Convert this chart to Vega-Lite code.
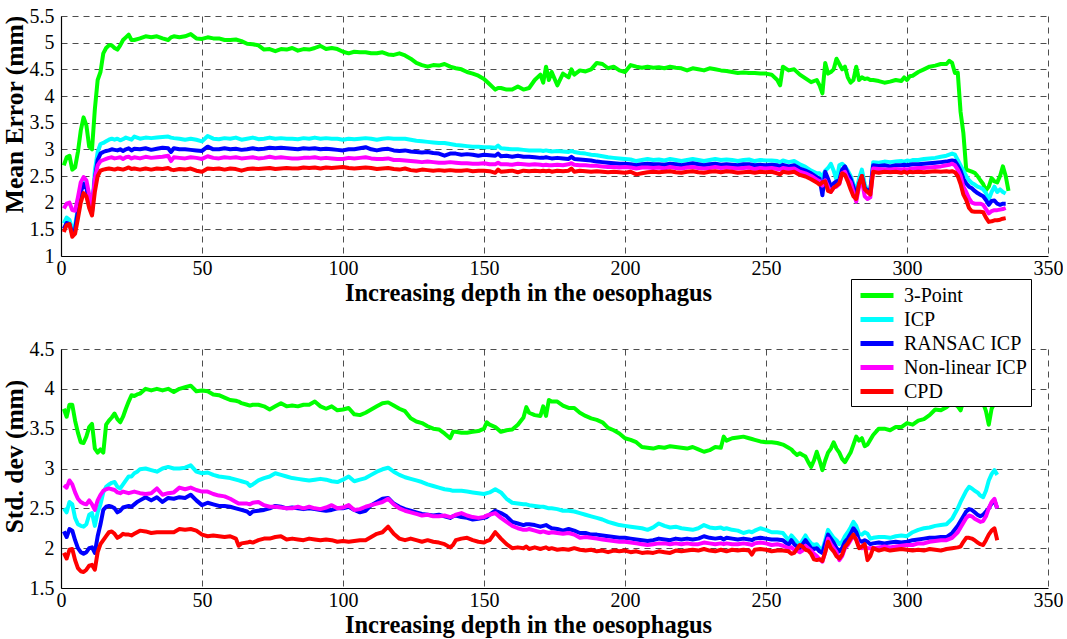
{
  "$schema": "https://vega.github.io/schema/vega-lite/v6.json",
  "padding": {"left": 2, "top": 6, "right": 0, "bottom": 2},
  "background": "white",
  "bounds": "flush",
  "spacing": 93,
  "config": {
    "font": "Liberation Serif, Times New Roman, DejaVu Serif, serif",
    "view": {"stroke": null},
    "axis": {
      "labelFont": "Liberation Serif, Times New Roman, DejaVu Serif, serif", "labelFontSize": 20, "labelColor": "#000",
      "titleFont": "Liberation Serif, Times New Roman, DejaVu Serif, serif", "titleFontSize": 25, "titleFontWeight": "bold", "titleColor": "#000",
      "domainColor": "#000", "domainWidth": 1.2, "ticks": false, "labelFlush": false,
      "gridColor": "#222", "gridDash": [6, 5], "gridOpacity": 0.8, "gridWidth": 1
    },
    "legend": {
      "labelFont": "Liberation Serif, Times New Roman, DejaVu Serif, serif", "labelFontSize": 20, "labelColor": "#000",
      "symbolType": "M-0.7,0H2.6", "symbolSize": 400, "symbolStrokeWidth": 5,
      "fillColor": "white", "strokeColor": "#000", "padding": 4, "rowPadding": 1, "labelOffset": 24
    }
  },
  "datasets": {
    "mean": [
      {"x":1,"g":2.7,"c":1.61,"b":1.51,"m":1.89,"r":1.45},
      {"x":2,"g":2.85,"c":1.72,"b":1.62,"m":1.98,"r":1.58},
      {"x":3,"g":2.88,"c":1.68,"b":1.6,"m":2.0,"r":1.6},
      {"x":4,"g":2.62,"c":1.5,"b":1.42,"m":1.86,"r":1.36},
      {"x":5,"g":2.66,"c":1.58,"b":1.5,"m":1.85,"r":1.42},
      {"x":6,"g":2.95,"c":1.9,"b":1.85,"m":2.1,"r":1.7},
      {"x":7,"g":3.35,"c":2.25,"b":2.2,"m":2.38,"r":2.0},
      {"x":8,"g":3.6,"c":2.42,"b":2.35,"m":2.48,"r":2.18},
      {"x":9,"g":3.45,"c":2.35,"b":2.28,"m":2.42,"r":2.12},
      {"x":10,"g":3.05,"c":2.05,"b":2.0,"m":2.15,"r":1.9},
      {"x":11,"g":3.0,"c":1.85,"b":1.82,"m":1.92,"r":1.76},
      {"x":12,"g":3.75,"c":2.6,"b":2.45,"m":2.45,"r":2.2},
      {"x":13,"g":4.3,"c":2.95,"b":2.8,"m":2.7,"r":2.5},
      {"x":14,"g":4.45,"c":3.1,"b":2.92,"m":2.78,"r":2.6},
      {"x":15,"g":4.8,"c":3.12,"b":2.95,"m":2.8,"r":2.62},
      {"x":16,"g":4.9,"c":3.15,"b":2.97,"m":2.82,"r":2.63},
      {"x":17,"g":4.95,"c":3.18,"b":2.98,"m":2.84,"r":2.64},
      {"x":18,"g":4.95,"c":3.2,"b":3.0,"m":2.85,"r":2.63},
      {"x":19,"g":4.9,"c":3.18,"b":2.99,"m":2.83,"r":2.62},
      {"x":20,"g":4.87,"c":3.2,"b":2.98,"m":2.84,"r":2.64},
      {"x":21,"g":4.95,"c":3.17,"b":3.0,"m":2.85,"r":2.63},
      {"x":22,"g":5.05,"c":3.19,"b":2.97,"m":2.82,"r":2.62},
      {"x":23,"g":5.1,"c":3.22,"b":3.0,"m":2.85,"r":2.64},
      {"x":24,"g":5.15,"c":3.2,"b":3.02,"m":2.86,"r":2.66},
      {"x":25,"g":5.05,"c":3.18,"b":2.98,"m":2.83,"r":2.63},
      {"x":26,"g":5.05,"c":3.24,"b":3.01,"m":2.85,"r":2.64},
      {"x":28,"g":5.08,"c":3.2,"b":3.0,"m":2.83,"r":2.62},
      {"x":30,"g":5.12,"c":3.22,"b":3.02,"m":2.86,"r":2.64},
      {"x":32,"g":5.1,"c":3.21,"b":2.99,"m":2.84,"r":2.62},
      {"x":34,"g":5.12,"c":3.22,"b":3.01,"m":2.85,"r":2.64},
      {"x":36,"g":5.08,"c":3.23,"b":3.03,"m":2.86,"r":2.63},
      {"x":38,"g":5.05,"c":3.24,"b":3.02,"m":2.88,"r":2.65},
      {"x":39,"g":5.1,"c":3.22,"b":2.95,"m":2.78,"r":2.62},
      {"x":40,"g":5.12,"c":3.21,"b":3.02,"m":2.85,"r":2.61},
      {"x":42,"g":5.1,"c":3.2,"b":3.0,"m":2.84,"r":2.63},
      {"x":44,"g":5.12,"c":3.18,"b":3.0,"m":2.83,"r":2.62},
      {"x":46,"g":5.16,"c":3.2,"b":2.99,"m":2.85,"r":2.64},
      {"x":48,"g":5.08,"c":3.18,"b":2.98,"m":2.84,"r":2.6},
      {"x":50,"g":5.07,"c":3.15,"b":2.97,"m":2.82,"r":2.58},
      {"x":52,"g":5.1,"c":3.25,"b":3.05,"m":2.87,"r":2.64},
      {"x":54,"g":5.08,"c":3.2,"b":3.0,"m":2.84,"r":2.63},
      {"x":56,"g":5.08,"c":3.19,"b":3.0,"m":2.83,"r":2.64},
      {"x":58,"g":5.05,"c":3.21,"b":3.02,"m":2.85,"r":2.62},
      {"x":60,"g":5.05,"c":3.2,"b":3.0,"m":2.84,"r":2.64},
      {"x":62,"g":5.06,"c":3.22,"b":3.01,"m":2.85,"r":2.63},
      {"x":64,"g":5.03,"c":3.18,"b":2.99,"m":2.83,"r":2.6},
      {"x":66,"g":4.98,"c":3.2,"b":3.0,"m":2.84,"r":2.63},
      {"x":68,"g":4.97,"c":3.22,"b":3.02,"m":2.85,"r":2.64},
      {"x":70,"g":4.95,"c":3.19,"b":3.0,"m":2.83,"r":2.63},
      {"x":72,"g":4.87,"c":3.2,"b":3.01,"m":2.84,"r":2.64},
      {"x":74,"g":4.88,"c":3.22,"b":3.03,"m":2.86,"r":2.65},
      {"x":76,"g":4.84,"c":3.2,"b":3.02,"m":2.84,"r":2.63},
      {"x":78,"g":4.88,"c":3.21,"b":3.03,"m":2.85,"r":2.64},
      {"x":80,"g":4.87,"c":3.2,"b":3.02,"m":2.84,"r":2.65},
      {"x":82,"g":4.9,"c":3.2,"b":3.01,"m":2.83,"r":2.64},
      {"x":84,"g":4.85,"c":3.19,"b":3.0,"m":2.83,"r":2.64},
      {"x":86,"g":4.88,"c":3.21,"b":3.02,"m":2.84,"r":2.66},
      {"x":88,"g":4.87,"c":3.2,"b":3.01,"m":2.84,"r":2.65},
      {"x":90,"g":4.9,"c":3.22,"b":3.02,"m":2.85,"r":2.66},
      {"x":92,"g":4.94,"c":3.2,"b":3.0,"m":2.83,"r":2.64},
      {"x":94,"g":4.88,"c":3.21,"b":3.01,"m":2.84,"r":2.66},
      {"x":96,"g":4.9,"c":3.2,"b":3.0,"m":2.83,"r":2.65},
      {"x":98,"g":4.88,"c":3.2,"b":2.99,"m":2.82,"r":2.66},
      {"x":100,"g":4.83,"c":3.18,"b":2.98,"m":2.82,"r":2.67},
      {"x":102,"g":4.8,"c":3.2,"b":3.0,"m":2.84,"r":2.65},
      {"x":104,"g":4.83,"c":3.19,"b":3.0,"m":2.83,"r":2.64},
      {"x":106,"g":4.82,"c":3.2,"b":3.02,"m":2.84,"r":2.65},
      {"x":108,"g":4.82,"c":3.21,"b":3.04,"m":2.85,"r":2.66},
      {"x":110,"g":4.8,"c":3.2,"b":3.0,"m":2.83,"r":2.65},
      {"x":112,"g":4.8,"c":3.18,"b":2.98,"m":2.82,"r":2.63},
      {"x":114,"g":4.82,"c":3.2,"b":3.0,"m":2.82,"r":2.64},
      {"x":116,"g":4.78,"c":3.21,"b":3.01,"m":2.83,"r":2.65},
      {"x":118,"g":4.77,"c":3.2,"b":2.98,"m":2.8,"r":2.63},
      {"x":120,"g":4.8,"c":3.2,"b":2.97,"m":2.8,"r":2.62},
      {"x":122,"g":4.76,"c":3.2,"b":2.98,"m":2.79,"r":2.64},
      {"x":124,"g":4.7,"c":3.18,"b":2.96,"m":2.78,"r":2.61},
      {"x":126,"g":4.62,"c":3.16,"b":2.95,"m":2.77,"r":2.6},
      {"x":128,"g":4.58,"c":3.15,"b":2.94,"m":2.76,"r":2.62},
      {"x":130,"g":4.55,"c":3.14,"b":2.95,"m":2.77,"r":2.61},
      {"x":132,"g":4.58,"c":3.13,"b":2.93,"m":2.76,"r":2.6},
      {"x":134,"g":4.57,"c":3.12,"b":2.92,"m":2.75,"r":2.61},
      {"x":136,"g":4.6,"c":3.12,"b":2.88,"m":2.75,"r":2.6},
      {"x":138,"g":4.55,"c":3.1,"b":2.92,"m":2.76,"r":2.61},
      {"x":140,"g":4.52,"c":3.08,"b":2.92,"m":2.75,"r":2.6},
      {"x":142,"g":4.5,"c":3.07,"b":2.9,"m":2.74,"r":2.6},
      {"x":144,"g":4.45,"c":3.06,"b":2.91,"m":2.74,"r":2.61},
      {"x":146,"g":4.42,"c":3.05,"b":2.9,"m":2.73,"r":2.59},
      {"x":148,"g":4.38,"c":3.05,"b":2.88,"m":2.73,"r":2.6},
      {"x":150,"g":4.32,"c":3.04,"b":2.9,"m":2.74,"r":2.6},
      {"x":152,"g":4.22,"c":3.04,"b":2.89,"m":2.72,"r":2.59},
      {"x":154,"g":4.12,"c":3.03,"b":2.88,"m":2.72,"r":2.56},
      {"x":155,"g":4.15,"c":3.07,"b":2.92,"m":2.75,"r":2.62},
      {"x":156,"g":4.15,"c":3.02,"b":2.87,"m":2.72,"r":2.58},
      {"x":158,"g":4.12,"c":3.01,"b":2.88,"m":2.72,"r":2.59},
      {"x":160,"g":4.12,"c":3.0,"b":2.86,"m":2.71,"r":2.6},
      {"x":162,"g":4.18,"c":3.0,"b":2.88,"m":2.73,"r":2.57},
      {"x":164,"g":4.12,"c":2.99,"b":2.86,"m":2.72,"r":2.6},
      {"x":166,"g":4.15,"c":2.98,"b":2.86,"m":2.71,"r":2.59},
      {"x":168,"g":4.3,"c":2.98,"b":2.85,"m":2.72,"r":2.6},
      {"x":170,"g":4.4,"c":2.98,"b":2.84,"m":2.71,"r":2.59},
      {"x":171,"g":4.25,"c":2.97,"b":2.84,"m":2.7,"r":2.6},
      {"x":172,"g":4.55,"c":2.98,"b":2.85,"m":2.71,"r":2.59},
      {"x":173,"g":4.3,"c":2.97,"b":2.84,"m":2.7,"r":2.6},
      {"x":174,"g":4.45,"c":2.96,"b":2.83,"m":2.7,"r":2.58},
      {"x":176,"g":4.2,"c":2.97,"b":2.84,"m":2.71,"r":2.6},
      {"x":178,"g":4.42,"c":2.96,"b":2.83,"m":2.7,"r":2.59},
      {"x":180,"g":4.35,"c":2.95,"b":2.82,"m":2.72,"r":2.6},
      {"x":181,"g":4.5,"c":2.97,"b":2.86,"m":2.74,"r":2.64},
      {"x":182,"g":4.4,"c":2.95,"b":2.82,"m":2.71,"r":2.58},
      {"x":184,"g":4.48,"c":2.93,"b":2.81,"m":2.7,"r":2.6},
      {"x":186,"g":4.46,"c":2.92,"b":2.8,"m":2.7,"r":2.59},
      {"x":188,"g":4.5,"c":2.9,"b":2.79,"m":2.69,"r":2.58},
      {"x":190,"g":4.62,"c":2.89,"b":2.77,"m":2.69,"r":2.59},
      {"x":192,"g":4.6,"c":2.87,"b":2.76,"m":2.68,"r":2.58},
      {"x":194,"g":4.52,"c":2.85,"b":2.75,"m":2.67,"r":2.57},
      {"x":196,"g":4.55,"c":2.84,"b":2.74,"m":2.67,"r":2.58},
      {"x":198,"g":4.48,"c":2.83,"b":2.73,"m":2.66,"r":2.57},
      {"x":200,"g":4.45,"c":2.82,"b":2.73,"m":2.67,"r":2.56},
      {"x":202,"g":4.58,"c":2.81,"b":2.72,"m":2.66,"r":2.58},
      {"x":204,"g":4.55,"c":2.78,"b":2.7,"m":2.64,"r":2.53},
      {"x":206,"g":4.53,"c":2.8,"b":2.72,"m":2.66,"r":2.55},
      {"x":208,"g":4.55,"c":2.82,"b":2.73,"m":2.66,"r":2.57},
      {"x":210,"g":4.53,"c":2.8,"b":2.72,"m":2.65,"r":2.58},
      {"x":212,"g":4.54,"c":2.81,"b":2.72,"m":2.66,"r":2.57},
      {"x":214,"g":4.52,"c":2.79,"b":2.71,"m":2.64,"r":2.58},
      {"x":216,"g":4.55,"c":2.82,"b":2.73,"m":2.67,"r":2.59},
      {"x":218,"g":4.53,"c":2.8,"b":2.72,"m":2.65,"r":2.57},
      {"x":220,"g":4.52,"c":2.78,"b":2.7,"m":2.64,"r":2.56},
      {"x":222,"g":4.48,"c":2.8,"b":2.72,"m":2.66,"r":2.58},
      {"x":224,"g":4.52,"c":2.82,"b":2.74,"m":2.67,"r":2.59},
      {"x":226,"g":4.5,"c":2.8,"b":2.72,"m":2.65,"r":2.57},
      {"x":228,"g":4.48,"c":2.78,"b":2.7,"m":2.64,"r":2.56},
      {"x":230,"g":4.52,"c":2.8,"b":2.72,"m":2.65,"r":2.58},
      {"x":232,"g":4.5,"c":2.82,"b":2.73,"m":2.67,"r":2.59},
      {"x":234,"g":4.48,"c":2.8,"b":2.71,"m":2.65,"r":2.57},
      {"x":236,"g":4.47,"c":2.81,"b":2.72,"m":2.66,"r":2.59},
      {"x":238,"g":4.45,"c":2.8,"b":2.71,"m":2.65,"r":2.58},
      {"x":240,"g":4.43,"c":2.78,"b":2.7,"m":2.64,"r":2.56},
      {"x":242,"g":4.44,"c":2.8,"b":2.72,"m":2.65,"r":2.57},
      {"x":244,"g":4.43,"c":2.81,"b":2.72,"m":2.66,"r":2.58},
      {"x":246,"g":4.43,"c":2.78,"b":2.7,"m":2.63,"r":2.56},
      {"x":248,"g":4.42,"c":2.8,"b":2.71,"m":2.65,"r":2.58},
      {"x":250,"g":4.42,"c":2.79,"b":2.7,"m":2.64,"r":2.57},
      {"x":252,"g":4.4,"c":2.79,"b":2.71,"m":2.65,"r":2.58},
      {"x":254,"g":4.3,"c":2.78,"b":2.7,"m":2.63,"r":2.55},
      {"x":255,"g":4.2,"c":2.76,"b":2.68,"m":2.62,"r":2.53},
      {"x":256,"g":4.55,"c":2.79,"b":2.71,"m":2.65,"r":2.58},
      {"x":258,"g":4.48,"c":2.76,"b":2.68,"m":2.63,"r":2.56},
      {"x":260,"g":4.5,"c":2.78,"b":2.7,"m":2.64,"r":2.58},
      {"x":262,"g":4.4,"c":2.72,"b":2.64,"m":2.58,"r":2.52},
      {"x":264,"g":4.33,"c":2.67,"b":2.6,"m":2.55,"r":2.49},
      {"x":266,"g":4.26,"c":2.6,"b":2.55,"m":2.5,"r":2.44},
      {"x":268,"g":4.3,"c":2.55,"b":2.48,"m":2.43,"r":2.38},
      {"x":269,"g":4.2,"c":2.55,"b":2.45,"m":2.4,"r":2.34},
      {"x":270,"g":4.05,"c":2.48,"b":2.14,"m":2.32,"r":2.38},
      {"x":271,"g":4.62,"c":2.6,"b":2.58,"m":2.42,"r":2.4},
      {"x":272,"g":4.42,"c":2.65,"b":2.45,"m":2.3,"r":2.22},
      {"x":273,"g":4.45,"c":2.73,"b":2.3,"m":2.2,"r":2.2},
      {"x":274,"g":4.5,"c":2.6,"b":2.36,"m":2.28,"r":2.28},
      {"x":275,"g":4.7,"c":2.42,"b":2.4,"m":2.3,"r":2.32},
      {"x":276,"g":4.6,"c":2.7,"b":2.42,"m":2.35,"r":2.36},
      {"x":277,"g":4.5,"c":2.73,"b":2.62,"m":2.55,"r":2.55},
      {"x":278,"g":4.55,"c":2.68,"b":2.68,"m":2.58,"r":2.52},
      {"x":279,"g":4.35,"c":2.6,"b":2.55,"m":2.45,"r":2.4},
      {"x":280,"g":4.25,"c":2.5,"b":2.45,"m":2.38,"r":2.25},
      {"x":281,"g":4.3,"c":2.35,"b":2.3,"m":2.2,"r":2.12},
      {"x":282,"g":4.55,"c":2.23,"b":2.12,"m":2.02,"r":2.07},
      {"x":283,"g":4.3,"c":2.45,"b":2.35,"m":2.3,"r":2.35},
      {"x":284,"g":4.35,"c":2.62,"b":2.5,"m":2.42,"r":2.5},
      {"x":285,"g":4.32,"c":2.35,"b":2.28,"m":2.12,"r":2.25},
      {"x":286,"g":4.33,"c":2.22,"b":2.22,"m":2.07,"r":2.2},
      {"x":287,"g":4.3,"c":2.22,"b":2.25,"m":2.1,"r":2.15},
      {"x":288,"g":4.3,"c":2.76,"b":2.7,"m":2.64,"r":2.58},
      {"x":290,"g":4.28,"c":2.75,"b":2.69,"m":2.63,"r":2.56},
      {"x":292,"g":4.25,"c":2.77,"b":2.7,"m":2.62,"r":2.58},
      {"x":294,"g":4.27,"c":2.76,"b":2.68,"m":2.62,"r":2.57},
      {"x":296,"g":4.3,"c":2.77,"b":2.7,"m":2.63,"r":2.58},
      {"x":298,"g":4.28,"c":2.78,"b":2.7,"m":2.62,"r":2.56},
      {"x":299,"g":4.35,"c":2.77,"b":2.71,"m":2.63,"r":2.58},
      {"x":300,"g":4.3,"c":2.79,"b":2.7,"m":2.62,"r":2.56},
      {"x":301,"g":4.37,"c":2.78,"b":2.71,"m":2.63,"r":2.58},
      {"x":302,"g":4.38,"c":2.8,"b":2.72,"m":2.64,"r":2.57},
      {"x":304,"g":4.45,"c":2.8,"b":2.72,"m":2.65,"r":2.58},
      {"x":306,"g":4.5,"c":2.82,"b":2.73,"m":2.65,"r":2.57},
      {"x":308,"g":4.55,"c":2.83,"b":2.74,"m":2.66,"r":2.58},
      {"x":310,"g":4.57,"c":2.84,"b":2.75,"m":2.67,"r":2.59},
      {"x":312,"g":4.6,"c":2.86,"b":2.76,"m":2.68,"r":2.58},
      {"x":314,"g":4.6,"c":2.88,"b":2.77,"m":2.7,"r":2.59},
      {"x":315,"g":4.66,"c":2.9,"b":2.78,"m":2.71,"r":2.58},
      {"x":316,"g":4.62,"c":2.92,"b":2.79,"m":2.73,"r":2.59},
      {"x":317,"g":4.43,"c":2.9,"b":2.78,"m":2.7,"r":2.57},
      {"x":318,"g":4.44,"c":2.8,"b":2.7,"m":2.62,"r":2.5},
      {"x":319,"g":3.7,"c":2.7,"b":2.6,"m":2.5,"r":2.35},
      {"x":320,"g":3.3,"c":2.6,"b":2.45,"m":2.3,"r":2.15},
      {"x":321,"g":2.62,"c":2.5,"b":2.36,"m":2.2,"r":2.05},
      {"x":322,"g":2.6,"c":2.42,"b":2.3,"m":2.08,"r":1.9},
      {"x":323,"g":2.58,"c":2.37,"b":2.27,"m":2.0,"r":1.84},
      {"x":324,"g":2.56,"c":2.34,"b":2.22,"m":1.98,"r":1.83},
      {"x":325,"g":2.5,"c":2.3,"b":2.18,"m":1.98,"r":1.83},
      {"x":326,"g":2.42,"c":2.28,"b":2.15,"m":1.98,"r":1.83},
      {"x":327,"g":2.35,"c":2.25,"b":2.12,"m":1.96,"r":1.82},
      {"x":328,"g":2.23,"c":2.18,"b":2.05,"m":1.88,"r":1.72},
      {"x":329,"g":2.3,"c":2.06,"b":1.96,"m":1.8,"r":1.64},
      {"x":330,"g":2.46,"c":2.2,"b":2.03,"m":1.84,"r":1.65},
      {"x":331,"g":2.4,"c":2.3,"b":2.04,"m":1.86,"r":1.67},
      {"x":332,"g":2.38,"c":2.2,"b":1.98,"m":1.86,"r":1.67},
      {"x":333,"g":2.5,"c":2.25,"b":1.96,"m":1.87,"r":1.68},
      {"x":334,"g":2.68,"c":2.2,"b":1.98,"m":1.88,"r":1.7},
      {"x":335,"g":2.5,"c":2.17,"b":1.98,"m":1.9,"r":1.71},
      {"x":336,"g":2.22,"c":null,"b":null,"m":null,"r":null}
    ],
    "std": [
      {"x":1,"g":3.75,"c":2.5,"b":2.21,"m":2.79,"r":1.94},
      {"x":2,"g":3.65,"c":2.45,"b":2.14,"m":2.76,"r":1.87},
      {"x":3,"g":3.8,"c":2.58,"b":2.24,"m":2.85,"r":1.98},
      {"x":4,"g":3.8,"c":2.55,"b":2.22,"m":2.8,"r":1.99},
      {"x":5,"g":3.6,"c":2.38,"b":2.1,"m":2.7,"r":1.85},
      {"x":6,"g":3.45,"c":2.3,"b":2.0,"m":2.62,"r":1.75},
      {"x":7,"g":3.33,"c":2.28,"b":1.95,"m":2.58,"r":1.71},
      {"x":8,"g":3.32,"c":2.27,"b":1.93,"m":2.56,"r":1.7},
      {"x":9,"g":3.4,"c":2.3,"b":1.95,"m":2.55,"r":1.73},
      {"x":10,"g":3.52,"c":2.42,"b":2.0,"m":2.6,"r":1.78},
      {"x":11,"g":3.56,"c":2.44,"b":2.01,"m":2.55,"r":1.79},
      {"x":12,"g":3.25,"c":2.28,"b":1.94,"m":2.48,"r":1.73},
      {"x":13,"g":3.2,"c":2.45,"b":2.15,"m":2.6,"r":1.95},
      {"x":14,"g":3.24,"c":2.55,"b":2.3,"m":2.67,"r":2.05},
      {"x":15,"g":3.2,"c":2.7,"b":2.48,"m":2.72,"r":2.1},
      {"x":16,"g":3.55,"c":2.77,"b":2.52,"m":2.74,"r":2.15},
      {"x":17,"g":3.6,"c":2.8,"b":2.53,"m":2.75,"r":2.2},
      {"x":18,"g":3.64,"c":2.82,"b":2.52,"m":2.74,"r":2.21},
      {"x":19,"g":3.69,"c":2.83,"b":2.5,"m":2.73,"r":2.18},
      {"x":20,"g":3.62,"c":2.77,"b":2.45,"m":2.7,"r":2.13},
      {"x":21,"g":3.58,"c":2.75,"b":2.47,"m":2.69,"r":2.15},
      {"x":22,"g":3.65,"c":2.8,"b":2.51,"m":2.71,"r":2.18},
      {"x":23,"g":3.75,"c":2.85,"b":2.52,"m":2.7,"r":2.17},
      {"x":24,"g":3.84,"c":2.9,"b":2.53,"m":2.69,"r":2.17},
      {"x":25,"g":3.92,"c":2.9,"b":2.52,"m":2.7,"r":2.16},
      {"x":26,"g":3.91,"c":2.94,"b":2.55,"m":2.71,"r":2.18},
      {"x":27,"g":3.93,"c":2.96,"b":2.58,"m":2.7,"r":2.2},
      {"x":28,"g":3.94,"c":2.99,"b":2.6,"m":2.69,"r":2.22},
      {"x":30,"g":4.0,"c":3.0,"b":2.64,"m":2.68,"r":2.21},
      {"x":32,"g":3.98,"c":2.98,"b":2.6,"m":2.69,"r":2.19},
      {"x":34,"g":4.0,"c":2.96,"b":2.64,"m":2.75,"r":2.2},
      {"x":36,"g":3.98,"c":3.0,"b":2.58,"m":2.67,"r":2.2},
      {"x":38,"g":4.0,"c":3.02,"b":2.63,"m":2.69,"r":2.2},
      {"x":40,"g":3.96,"c":3.0,"b":2.62,"m":2.7,"r":2.2},
      {"x":42,"g":4.0,"c":3.0,"b":2.64,"m":2.76,"r":2.24},
      {"x":44,"g":4.02,"c":3.01,"b":2.63,"m":2.74,"r":2.23},
      {"x":46,"g":4.04,"c":3.04,"b":2.67,"m":2.76,"r":2.24},
      {"x":48,"g":3.97,"c":2.96,"b":2.6,"m":2.73,"r":2.22},
      {"x":50,"g":3.98,"c":2.94,"b":2.54,"m":2.71,"r":2.17},
      {"x":52,"g":3.97,"c":2.95,"b":2.57,"m":2.71,"r":2.15},
      {"x":54,"g":3.93,"c":2.92,"b":2.55,"m":2.68,"r":2.16},
      {"x":56,"g":3.92,"c":2.9,"b":2.53,"m":2.66,"r":2.15},
      {"x":58,"g":3.89,"c":2.89,"b":2.53,"m":2.65,"r":2.14},
      {"x":60,"g":3.86,"c":2.88,"b":2.52,"m":2.62,"r":2.15},
      {"x":62,"g":3.85,"c":2.86,"b":2.5,"m":2.58,"r":2.12},
      {"x":63,"g":3.84,"c":2.85,"b":2.49,"m":2.56,"r":2.03},
      {"x":64,"g":3.82,"c":2.84,"b":2.48,"m":2.56,"r":2.06},
      {"x":66,"g":3.8,"c":2.82,"b":2.46,"m":2.56,"r":2.07},
      {"x":67,"g":3.79,"c":2.78,"b":2.43,"m":2.55,"r":2.08},
      {"x":68,"g":3.8,"c":2.8,"b":2.46,"m":2.57,"r":2.07},
      {"x":70,"g":3.8,"c":2.85,"b":2.47,"m":2.58,"r":2.1},
      {"x":72,"g":3.78,"c":2.88,"b":2.48,"m":2.54,"r":2.12},
      {"x":74,"g":3.74,"c":2.9,"b":2.5,"m":2.52,"r":2.12},
      {"x":76,"g":3.78,"c":2.94,"b":2.53,"m":2.52,"r":2.14},
      {"x":78,"g":3.82,"c":2.92,"b":2.52,"m":2.51,"r":2.15},
      {"x":80,"g":3.78,"c":2.9,"b":2.5,"m":2.5,"r":2.11},
      {"x":82,"g":3.79,"c":2.88,"b":2.51,"m":2.5,"r":2.12},
      {"x":84,"g":3.78,"c":2.87,"b":2.5,"m":2.52,"r":2.11},
      {"x":86,"g":3.8,"c":2.86,"b":2.49,"m":2.5,"r":2.1},
      {"x":88,"g":3.8,"c":2.85,"b":2.5,"m":2.52,"r":2.12},
      {"x":90,"g":3.84,"c":2.86,"b":2.49,"m":2.5,"r":2.11},
      {"x":92,"g":3.78,"c":2.87,"b":2.48,"m":2.49,"r":2.1},
      {"x":94,"g":3.75,"c":2.86,"b":2.47,"m":2.51,"r":2.11},
      {"x":96,"g":3.78,"c":2.84,"b":2.48,"m":2.54,"r":2.1},
      {"x":98,"g":3.73,"c":2.83,"b":2.5,"m":2.5,"r":2.08},
      {"x":100,"g":3.74,"c":2.86,"b":2.5,"m":2.51,"r":2.09},
      {"x":102,"g":3.76,"c":2.9,"b":2.52,"m":2.54,"r":2.08},
      {"x":104,"g":3.68,"c":2.84,"b":2.48,"m":2.48,"r":2.09},
      {"x":106,"g":3.67,"c":2.86,"b":2.45,"m":2.49,"r":2.1},
      {"x":108,"g":3.7,"c":2.88,"b":2.47,"m":2.52,"r":2.1},
      {"x":110,"g":3.74,"c":2.92,"b":2.54,"m":2.54,"r":2.14},
      {"x":112,"g":3.78,"c":2.96,"b":2.58,"m":2.56,"r":2.18},
      {"x":114,"g":3.82,"c":2.99,"b":2.62,"m":2.58,"r":2.2},
      {"x":116,"g":3.83,"c":3.01,"b":2.63,"m":2.62,"r":2.27},
      {"x":118,"g":3.79,"c":2.96,"b":2.56,"m":2.55,"r":2.18},
      {"x":120,"g":3.75,"c":2.92,"b":2.52,"m":2.5,"r":2.12},
      {"x":122,"g":3.72,"c":2.89,"b":2.49,"m":2.47,"r":2.1},
      {"x":124,"g":3.63,"c":2.87,"b":2.47,"m":2.45,"r":2.12},
      {"x":126,"g":3.59,"c":2.85,"b":2.45,"m":2.43,"r":2.1},
      {"x":128,"g":3.57,"c":2.83,"b":2.43,"m":2.41,"r":2.08},
      {"x":130,"g":3.53,"c":2.8,"b":2.42,"m":2.42,"r":2.1},
      {"x":132,"g":3.5,"c":2.78,"b":2.41,"m":2.4,"r":2.08},
      {"x":134,"g":3.49,"c":2.76,"b":2.42,"m":2.4,"r":2.07},
      {"x":136,"g":3.44,"c":2.74,"b":2.4,"m":2.41,"r":2.05},
      {"x":138,"g":3.38,"c":2.73,"b":2.38,"m":2.39,"r":2.01},
      {"x":139,"g":3.46,"c":2.72,"b":2.4,"m":2.4,"r":2.04},
      {"x":140,"g":3.46,"c":2.72,"b":2.41,"m":2.42,"r":2.1},
      {"x":142,"g":3.45,"c":2.72,"b":2.39,"m":2.44,"r":2.12},
      {"x":144,"g":3.45,"c":2.71,"b":2.38,"m":2.41,"r":2.13},
      {"x":146,"g":3.46,"c":2.7,"b":2.36,"m":2.39,"r":2.1},
      {"x":148,"g":3.47,"c":2.69,"b":2.37,"m":2.38,"r":2.08},
      {"x":150,"g":3.5,"c":2.68,"b":2.38,"m":2.39,"r":2.07},
      {"x":151,"g":3.58,"c":2.69,"b":2.39,"m":2.41,"r":2.09},
      {"x":152,"g":3.55,"c":2.7,"b":2.42,"m":2.42,"r":2.1},
      {"x":154,"g":3.52,"c":2.74,"b":2.47,"m":2.44,"r":2.2},
      {"x":156,"g":3.46,"c":2.7,"b":2.44,"m":2.38,"r":2.12},
      {"x":158,"g":3.48,"c":2.62,"b":2.4,"m":2.33,"r":2.05},
      {"x":160,"g":3.49,"c":2.57,"b":2.33,"m":2.28,"r":2.0},
      {"x":162,"g":3.55,"c":2.56,"b":2.31,"m":2.25,"r":2.01},
      {"x":164,"g":3.64,"c":2.55,"b":2.29,"m":2.23,"r":2.0},
      {"x":165,"g":3.77,"c":2.55,"b":2.3,"m":2.23,"r":2.02},
      {"x":166,"g":3.7,"c":2.54,"b":2.3,"m":2.24,"r":1.99},
      {"x":168,"g":3.67,"c":2.53,"b":2.29,"m":2.22,"r":2.01},
      {"x":170,"g":3.66,"c":2.52,"b":2.27,"m":2.2,"r":1.99},
      {"x":171,"g":3.78,"c":2.52,"b":2.28,"m":2.21,"r":2.0},
      {"x":172,"g":3.66,"c":2.51,"b":2.29,"m":2.2,"r":2.01},
      {"x":173,"g":3.86,"c":2.5,"b":2.27,"m":2.19,"r":1.99},
      {"x":174,"g":3.84,"c":2.5,"b":2.25,"m":2.2,"r":2.0},
      {"x":176,"g":3.84,"c":2.49,"b":2.24,"m":2.19,"r":1.98},
      {"x":178,"g":3.79,"c":2.47,"b":2.22,"m":2.18,"r":1.99},
      {"x":180,"g":3.76,"c":2.47,"b":2.24,"m":2.19,"r":1.98},
      {"x":182,"g":3.76,"c":2.46,"b":2.22,"m":2.17,"r":2.0},
      {"x":184,"g":3.7,"c":2.44,"b":2.19,"m":2.13,"r":1.98},
      {"x":186,"g":3.66,"c":2.42,"b":2.19,"m":2.14,"r":1.97},
      {"x":188,"g":3.63,"c":2.4,"b":2.17,"m":2.13,"r":1.98},
      {"x":190,"g":3.61,"c":2.38,"b":2.17,"m":2.12,"r":1.96},
      {"x":192,"g":3.58,"c":2.36,"b":2.16,"m":2.11,"r":1.97},
      {"x":194,"g":3.51,"c":2.33,"b":2.15,"m":2.1,"r":1.95},
      {"x":196,"g":3.48,"c":2.31,"b":2.14,"m":2.09,"r":1.97},
      {"x":198,"g":3.44,"c":2.29,"b":2.13,"m":2.08,"r":1.96},
      {"x":200,"g":3.38,"c":2.28,"b":2.13,"m":2.08,"r":1.97},
      {"x":202,"g":3.36,"c":2.27,"b":2.12,"m":2.07,"r":1.95},
      {"x":204,"g":3.33,"c":2.26,"b":2.11,"m":2.06,"r":1.96},
      {"x":206,"g":3.27,"c":2.25,"b":2.1,"m":2.05,"r":1.94},
      {"x":208,"g":3.26,"c":2.23,"b":2.09,"m":2.04,"r":1.95},
      {"x":210,"g":3.25,"c":2.26,"b":2.1,"m":2.05,"r":1.94},
      {"x":212,"g":3.27,"c":2.31,"b":2.12,"m":2.06,"r":1.96},
      {"x":214,"g":3.26,"c":2.28,"b":2.11,"m":2.06,"r":1.95},
      {"x":216,"g":3.28,"c":2.26,"b":2.1,"m":2.05,"r":1.94},
      {"x":218,"g":3.27,"c":2.27,"b":2.12,"m":2.06,"r":1.97},
      {"x":220,"g":3.26,"c":2.25,"b":2.11,"m":2.05,"r":1.96},
      {"x":222,"g":3.25,"c":2.24,"b":2.12,"m":2.06,"r":1.97},
      {"x":224,"g":3.27,"c":2.23,"b":2.11,"m":2.05,"r":1.98},
      {"x":226,"g":3.24,"c":2.25,"b":2.12,"m":2.05,"r":1.97},
      {"x":228,"g":3.21,"c":2.29,"b":2.15,"m":2.07,"r":1.99},
      {"x":230,"g":3.23,"c":2.26,"b":2.13,"m":2.06,"r":1.97},
      {"x":232,"g":3.27,"c":2.25,"b":2.12,"m":2.05,"r":1.96},
      {"x":234,"g":3.26,"c":2.26,"b":2.13,"m":2.06,"r":1.98},
      {"x":235,"g":3.4,"c":2.24,"b":2.11,"m":2.05,"r":1.97},
      {"x":236,"g":3.35,"c":2.25,"b":2.13,"m":2.06,"r":1.96},
      {"x":238,"g":3.38,"c":2.23,"b":2.12,"m":2.05,"r":1.98},
      {"x":240,"g":3.39,"c":2.22,"b":2.11,"m":2.05,"r":1.97},
      {"x":242,"g":3.4,"c":2.19,"b":2.12,"m":2.06,"r":1.98},
      {"x":244,"g":3.38,"c":2.21,"b":2.11,"m":2.05,"r":1.97},
      {"x":245,"g":3.37,"c":2.2,"b":2.1,"m":2.04,"r":1.92},
      {"x":246,"g":3.36,"c":2.22,"b":2.12,"m":2.06,"r":1.98},
      {"x":248,"g":3.34,"c":2.25,"b":2.13,"m":2.07,"r":1.99},
      {"x":250,"g":3.33,"c":2.23,"b":2.12,"m":2.06,"r":1.98},
      {"x":252,"g":3.33,"c":2.2,"b":2.11,"m":2.04,"r":1.96},
      {"x":254,"g":3.32,"c":2.2,"b":2.11,"m":2.05,"r":1.97},
      {"x":256,"g":3.3,"c":2.19,"b":2.1,"m":2.03,"r":1.97},
      {"x":258,"g":3.26,"c":2.1,"b":2.04,"m":2.0,"r":1.96},
      {"x":259,"g":3.24,"c":2.16,"b":2.1,"m":2.01,"r":1.93},
      {"x":260,"g":3.2,"c":2.12,"b":2.05,"m":1.98,"r":1.94},
      {"x":261,"g":3.17,"c":2.08,"b":2.02,"m":1.97,"r":1.99},
      {"x":262,"g":3.19,"c":2.04,"b":1.99,"m":1.95,"r":2.04},
      {"x":263,"g":3.17,"c":2.1,"b":2.05,"m":1.97,"r":2.02},
      {"x":264,"g":3.15,"c":2.16,"b":2.1,"m":2.03,"r":1.98},
      {"x":265,"g":3.08,"c":2.1,"b":2.05,"m":2.0,"r":1.97},
      {"x":266,"g":3.02,"c":2.06,"b":2.0,"m":1.97,"r":1.93},
      {"x":267,"g":3.1,"c":2.04,"b":1.99,"m":1.93,"r":1.86},
      {"x":268,"g":3.21,"c":2.05,"b":2.0,"m":1.9,"r":1.85},
      {"x":269,"g":3.1,"c":2.0,"b":1.96,"m":1.86,"r":1.86},
      {"x":270,"g":2.98,"c":1.98,"b":1.94,"m":1.83,"r":1.84},
      {"x":271,"g":3.1,"c":2.1,"b":2.06,"m":1.95,"r":1.95},
      {"x":272,"g":3.2,"c":2.23,"b":2.17,"m":2.12,"r":2.08},
      {"x":273,"g":3.25,"c":2.18,"b":2.12,"m":2.05,"r":2.0},
      {"x":274,"g":3.33,"c":2.13,"b":2.07,"m":2.0,"r":1.96},
      {"x":275,"g":3.25,"c":2.1,"b":2.0,"m":1.95,"r":1.9},
      {"x":276,"g":3.2,"c":2.05,"b":1.96,"m":1.85,"r":1.87},
      {"x":277,"g":3.12,"c":2.08,"b":2.0,"m":1.9,"r":1.92},
      {"x":278,"g":3.08,"c":2.15,"b":2.08,"m":2.0,"r":2.02},
      {"x":279,"g":3.14,"c":2.2,"b":2.12,"m":2.04,"r":2.06},
      {"x":280,"g":3.2,"c":2.26,"b":2.18,"m":2.1,"r":2.12},
      {"x":281,"g":3.3,"c":2.33,"b":2.25,"m":2.15,"r":2.17},
      {"x":282,"g":3.4,"c":2.28,"b":2.2,"m":2.12,"r":2.1},
      {"x":283,"g":3.35,"c":2.18,"b":2.1,"m":2.02,"r":2.0},
      {"x":284,"g":3.38,"c":2.17,"b":2.08,"m":2.0,"r":2.02},
      {"x":285,"g":3.28,"c":2.2,"b":2.1,"m":2.02,"r":2.05},
      {"x":286,"g":3.3,"c":2.18,"b":2.08,"m":2.0,"r":1.85},
      {"x":287,"g":3.36,"c":2.12,"b":2.05,"m":2.0,"r":1.9},
      {"x":288,"g":3.42,"c":2.13,"b":2.06,"m":2.0,"r":2.0},
      {"x":290,"g":3.5,"c":2.14,"b":2.07,"m":2.01,"r":1.97},
      {"x":292,"g":3.5,"c":2.14,"b":2.06,"m":2.02,"r":1.99},
      {"x":294,"g":3.48,"c":2.13,"b":2.07,"m":2.01,"r":1.97},
      {"x":296,"g":3.52,"c":2.15,"b":2.08,"m":2.02,"r":1.98},
      {"x":298,"g":3.52,"c":2.16,"b":2.07,"m":2.03,"r":1.99},
      {"x":300,"g":3.57,"c":2.15,"b":2.08,"m":2.04,"r":1.98},
      {"x":302,"g":3.55,"c":2.2,"b":2.1,"m":2.04,"r":1.97},
      {"x":304,"g":3.6,"c":2.23,"b":2.11,"m":2.06,"r":1.98},
      {"x":306,"g":3.62,"c":2.25,"b":2.12,"m":2.06,"r":1.97},
      {"x":308,"g":3.67,"c":2.26,"b":2.13,"m":2.08,"r":1.99},
      {"x":310,"g":3.74,"c":2.28,"b":2.13,"m":2.09,"r":1.98},
      {"x":312,"g":3.73,"c":2.29,"b":2.14,"m":2.1,"r":1.97},
      {"x":314,"g":3.77,"c":2.3,"b":2.14,"m":2.1,"r":1.99},
      {"x":316,"g":3.83,"c":2.37,"b":2.19,"m":2.13,"r":2.0},
      {"x":318,"g":3.78,"c":2.5,"b":2.28,"m":2.2,"r":2.01},
      {"x":319,"g":3.73,"c":2.58,"b":2.34,"m":2.26,"r":2.02},
      {"x":320,"g":3.85,"c":2.65,"b":2.4,"m":2.32,"r":2.08},
      {"x":321,"g":3.82,"c":2.72,"b":2.46,"m":2.38,"r":2.13},
      {"x":322,"g":3.8,"c":2.77,"b":2.49,"m":2.41,"r":2.13},
      {"x":323,"g":3.84,"c":2.75,"b":2.48,"m":2.4,"r":2.12},
      {"x":324,"g":3.82,"c":2.72,"b":2.45,"m":2.37,"r":2.1},
      {"x":325,"g":3.86,"c":2.7,"b":2.42,"m":2.35,"r":2.07},
      {"x":326,"g":3.84,"c":2.66,"b":2.4,"m":2.33,"r":2.05},
      {"x":327,"g":3.82,"c":2.64,"b":2.42,"m":2.34,"r":2.04},
      {"x":328,"g":3.72,"c":2.72,"b":2.46,"m":2.4,"r":2.1},
      {"x":329,"g":3.55,"c":2.85,"b":2.5,"m":2.5,"r":2.17},
      {"x":330,"g":3.75,"c":2.93,"b":2.56,"m":2.58,"r":2.22},
      {"x":331,"g":3.82,"c":2.98,"b":2.6,"m":2.62,"r":2.25},
      {"x":332,"g":3.8,"c":2.92,"b":2.5,"m":2.5,"r":2.1}
    ]
  },
  "resolve": {"legend": {"color": "independent"}},
  "vconcat": [
    {
      "width": 987,
      "height": 240,
      "data": {"name": "mean"},
      "transform": [{"fold": ["g", "c", "b", "m", "r"], "as": ["method", "value"]}],
      "mark": {"type": "line", "strokeWidth": 4, "strokeJoin": "round"},
      "encoding": {
        "x": {
          "field": "x", "type": "quantitative",
          "scale": {"domain": [0, 350], "nice": false},
          "axis": {"values": [0, 50, 100, 150, 200, 250, 300, 350], "title": "Increasing depth in the oesophagus", "labelPadding": 2, "titlePadding": 3, "titleX": 467, "titleFontSize": 24.5}
        },
        "y": {
          "field": "value", "type": "quantitative",
          "scale": {"domain": [1, 5.5], "nice": false, "zero": false},
          "axis": {"values": [1, 1.5, 2, 2.5, 3, 3.5, 4, 4.5, 5, 5.5], "format": ".1~f", "title": "Mean Error (mm)", "labelPadding": 7, "titlePadding": 2, "titleY": 98, "titleFontSize": 25.5}
        },
        "color": {
          "field": "method", "type": "nominal",
          "scale": {"domain": ["g", "c", "b", "m", "r"], "range": ["#00ff00", "#00ffff", "#0000ff", "#ff00ff", "#ff0000"]},
          "legend": null
        }
      }
    },
    {
      "width": 987,
      "height": 239,
      "data": {"name": "std"},
      "transform": [{"fold": ["g", "c", "b", "m", "r"], "as": ["method", "value"]}],
      "mark": {"type": "line", "strokeWidth": 4, "strokeJoin": "round"},
      "encoding": {
        "x": {
          "field": "x", "type": "quantitative",
          "scale": {"domain": [0, 350], "nice": false},
          "axis": {"values": [0, 50, 100, 150, 200, 250, 300, 350], "title": "Increasing depth in the oesophagus", "labelPadding": 2, "titlePadding": 3, "titleX": 467, "titleFontSize": 24.5}
        },
        "y": {
          "field": "value", "type": "quantitative",
          "scale": {"domain": [1.5, 4.5], "nice": false, "zero": false},
          "axis": {"values": [1.5, 2, 2.5, 3, 3.5, 4, 4.5], "format": ".1~f", "title": "Std. dev (mm)", "labelPadding": 7, "titlePadding": 2, "titleY": 107, "titleFontSize": 25.5}
        },
        "color": {
          "field": "method", "type": "nominal",
          "scale": {"domain": ["g", "c", "b", "m", "r"], "range": ["#00ff00", "#00ffff", "#0000ff", "#ff00ff", "#ff0000"]},
          "legend": {
            "orient": "none", "legendX": 790, "legendY": -70, "title": null,
            "labelExpr": "{'g': '3-Point', 'c': 'ICP', 'b': 'RANSAC ICP', 'm': 'Non-linear ICP', 'r': 'CPD'}[datum.label]"
          }
        }
      }
    }
  ]
}
